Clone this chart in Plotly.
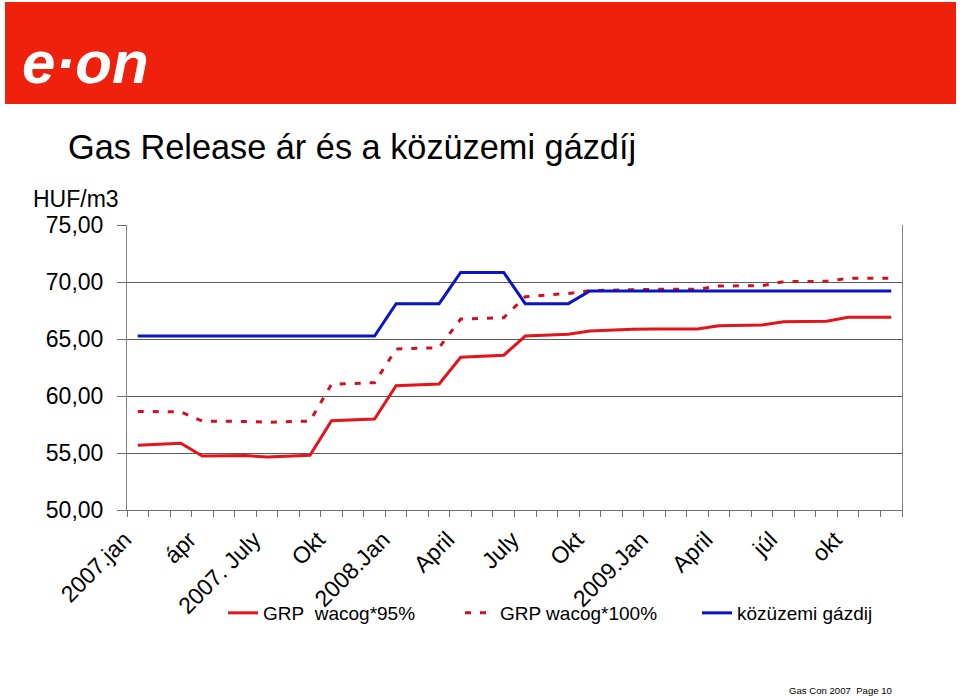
import plotly.graph_objects as go

# ---------------- data ----------------
months = [f"{y}.{m:02d}" for y in (2007, 2008, 2009) for m in range(1, 13)]
tick_labels = ["2007.jan", "ápr", "2007. July", "Okt", "2008.Jan", "April",
               "July", "Okt", "2009.Jan", "April", "júl", "okt"]

grp_95 = [55.68, 55.76, 55.85, 54.74, 54.77, 54.77, 54.65, 54.71, 54.80,
          57.83, 57.89, 57.98, 60.90, 60.95, 61.05, 63.40, 63.50, 63.58,
          65.26, 65.32, 65.41, 65.70, 65.79, 65.85, 65.88, 65.88, 65.88,
          66.16, 66.20, 66.23, 66.52, 66.55, 66.55, 66.90, 66.90, 66.90]

grp_100 = [58.65, 58.65, 58.60, 57.80, 57.80, 57.77, 57.69, 57.74, 57.80,
           61.03, 61.08, 61.17, 64.12, 64.15, 64.24, 66.75, 66.81, 66.87,
           68.71, 68.86, 69.00, 69.24, 69.30, 69.36, 69.36, 69.36, 69.36,
           69.65, 69.68, 69.68, 70.03, 70.03, 70.06, 70.32, 70.32, 70.32]

kozuzemi = [65.26] * 12 + [68.10] * 3 + [70.84] * 3 + [68.10] * 3 + [69.22] * 15

x_idx = list(range(len(months)))

# ---------------- layout helpers (pixel -> paper) ----------------
W, H = 960, 696
L, R, T, B = 127, 902, 225, 510


def px(xp):
    return (xp - L) / (R - L)


def py(yp):
    return (B - yp) / (B - T)


FONT = "Liberation Sans, Arial, sans-serif"
RED = "#E3141A"
RED_D = "#D0101E"
BLUE = "#0A14C4"

fig = go.Figure()
fig.add_trace(go.Scatter(x=x_idx, y=grp_95, mode="lines", name="GRP\u00a0\u00a0wacog*95%",
                         line=dict(color=RED, width=3)))
fig.add_trace(go.Scatter(x=x_idx, y=grp_100, mode="lines", name="GRP wacog*100%",
                         line=dict(color=RED_D, width=3, dash="6px,9px")))
fig.add_trace(go.Scatter(x=x_idx, y=kozuzemi, mode="lines", name="közüzemi gázdij",
                         line=dict(color=BLUE, width=3)))

fig.update_layout(
    width=W, height=H,
    margin=dict(l=L, r=W - R, t=T, b=H - B, pad=0),
    paper_bgcolor="white", plot_bgcolor="white",
    separators=",.",
    font=dict(family=FONT, color="black"),
    showlegend=True,
    legend=dict(orientation="h", x=px(223), y=py(613), xanchor="left", yanchor="middle",
                font=dict(size=19, family=FONT), entrywidth=192, entrywidthmode="pixels",
                bgcolor="rgba(0,0,0,0)", traceorder="normal"),
    xaxis=dict(range=[-0.5, 35.5], tickmode="array",
               tickvals=x_idx[::3], ticktext=tick_labels,
               tickangle=-45, ticks="", tickfont=dict(size=23, family=FONT),
               showgrid=False, zeroline=False, showline=True, linecolor="#707070", linewidth=1,
               minor=dict(tick0=-0.5, dtick=1, ticks="outside", ticklen=6,
                          tickcolor="#707070", showgrid=False),
               ticklabelstandoff=6, ticklabelshift=-13),
    yaxis=dict(range=[50, 75], dtick=5, tickformat=".2f", ticks="outside", ticklen=9,
               tickcolor="#707070", tickfont=dict(size=23, family=FONT),
               showgrid=True, gridcolor="#5a5a5a", gridwidth=1, zeroline=False,
               showline=True, linecolor="#808080", linewidth=1, mirror=True,
               ticklabelstandoff=9),
)

# red header banner
fig.add_shape(type="rect", xref="paper", yref="paper",
              x0=px(5), x1=px(956), y0=py(104), y1=py(2),
              fillcolor="#EF200C", line=dict(width=0), layer="below")

annots = [
    dict(text="<b><i>e·on</i></b>", x=px(20), y=py(62), xanchor="left", yanchor="middle",
         font=dict(size=60, color="white", family=FONT)),
    dict(text="Gas Release ár és a közüzemi gázdíj", x=px(66), y=py(147),
         xanchor="left", yanchor="middle", font=dict(size=34.3, color="black", family=FONT)),
    dict(text="HUF/m3", x=px(31), y=py(199), xanchor="left", yanchor="middle",
         font=dict(size=23, color="black", family=FONT)),
    dict(text="Gas Con 2007\u00a0\u00a0Page 10", x=px(894), y=py(690), xanchor="right",
         yanchor="middle", font=dict(size=9.6, color="black", family=FONT)),
]
for a in annots:
    fig.add_annotation(xref="paper", yref="paper", showarrow=False, **a)

fig.write_html("out.html")
